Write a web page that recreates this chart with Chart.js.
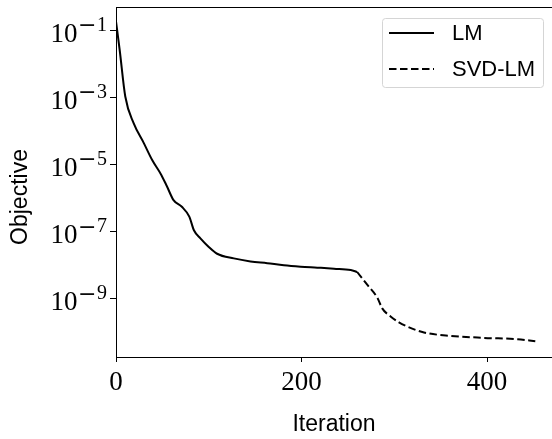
<!DOCTYPE html>
<html>
<head>
<meta charset="utf-8">
<script src="https://cdn.jsdelivr.net/npm/chart.js@4.4.1/dist/chart.umd.min.js"></script>
<style>
  html, body { margin: 0; padding: 0; background: #fff; }
</style>
</head>
<body>
<canvas id="objChart" width="552" height="439"></canvas>
<script>
// ---------------------- DATA ---------------------
const lmIter = [0, 4, 10, 19, 30, 39, 49, 55, 62, 71, 79, 84, 91, 100, 109, 127, 145, 163, 181, 199, 217, 235, 253, 260];
const lmObjective = [1.8e-1, 2.5e-2, 1.05e-3, 1.7e-4, 4.3e-5, 1.35e-5, 4.8e-6, 2.2e-6, 8.7e-7, 5.5e-7, 2.8e-7, 1.1e-7,
  6.3e-8, 3.5e-8, 2.2e-8, 1.6e-8, 1.3e-8, 1.15e-8, 1.0e-8, 9.1e-9, 8.5e-9, 7.9e-9, 7.2e-9, 6.3e-9];

const svdIter = [260, 271, 282, 287, 296, 305, 314, 332, 361, 397, 433, 452];
const svdObjective = [6.3e-9, 2.6e-9, 1.05e-9, 5.2e-10, 3.0e-10, 2.0e-10, 1.5e-10, 1.0e-10, 7.9e-11, 6.9e-11, 6.3e-11, 5.5e-11];

const xTicks = [0, 200, 400];
const yTicks = [1e-9, 1e-7, 1e-5, 1e-3, 1e-1];

const toPoints = (xs, ys) => xs.map((x, i) => ({ x: x, y: ys[i] }));

// ---------------------- PLUGINS ---------------------
// y tick labels as 10^n with a real superscript
const powerLabels = {
  id: "powerLabels",
  afterDraw(chart) {
    const ctx = chart.ctx;
    const scale = chart.scales.y;
    ctx.save();
    ctx.fillStyle = "#000";
    ctx.textBaseline = "alphabetic";
    scale.ticks.forEach(t => {
      const py = scale.getPixelForValue(t.value);
      const digits = String(Math.abs(Math.round(Math.log10(t.value))));
      ctx.font = "20px 'Liberation Serif'";
      const dw = ctx.measureText(digits).width;
      ctx.font = "22px 'DejaVu Serif'";
      const mw = ctx.measureText("\u2212").width;
      ctx.font = "27px 'Liberation Serif'";
      const bw = ctx.measureText("10").width;
      const right = scale.right - 9;
      ctx.fillText("10", right - dw - mw - bw - 1, py + 11.5);
      ctx.font = "22px 'DejaVu Serif'";
      ctx.fillText("\u2212", right - dw - mw - 0.5, py + 2);
      ctx.font = "20px 'Liberation Serif'";
      ctx.fillText(digits, right - dw, py + 0.5);
    });
    ctx.restore();
  }
};

// rotated y title, placed as in the original figure
const yTitle = {
  id: "yTitle",
  afterDraw(chart) {
    const ctx = chart.ctx;
    ctx.save();
    ctx.translate(21, 197);
    ctx.rotate(-Math.PI / 2);
    ctx.font = "23px 'Liberation Sans'";
    ctx.fillStyle = "#000";
    ctx.textAlign = "center";
    ctx.textBaseline = "middle";
    ctx.fillText("Objective", 0, 0);
    ctx.restore();
  }
};

// top spine (right spine sits at the canvas edge)
const frame = {
  id: "frame",
  afterDraw(chart) {
    const { ctx, chartArea } = chart;
    ctx.save();
    ctx.strokeStyle = "#000";
    ctx.lineWidth = 1;
    ctx.beginPath();
    ctx.moveTo(chartArea.left, Math.round(chartArea.top) + 0.5);
    ctx.lineTo(Math.round(chartArea.right) + 0.5, Math.round(chartArea.top) + 0.5);
    ctx.lineTo(Math.round(chartArea.right) + 0.5, chartArea.bottom);
    ctx.stroke();
    ctx.restore();
  }
};

// boxed legend inside the plot, upper right
const boxLegend = {
  id: "boxLegend",
  afterDraw(chart) {
    const { ctx, chartArea } = chart;
    const bx = chartArea.right - 170, by = chartArea.top + 11;
    ctx.save();
    ctx.beginPath();
    ctx.roundRect(Math.round(bx) + 0.5, Math.round(by) + 0.5, 161, 69, 3);
    ctx.fillStyle = "rgba(255,255,255,0.8)";
    ctx.fill();
    ctx.strokeStyle = "#d5d5d5";
    ctx.lineWidth = 1;
    ctx.stroke();
    chart.data.datasets.forEach((ds, i) => {
      const ly = by + 15 + i * 36;
      ctx.beginPath();
      ctx.setLineDash(ds.borderDash || []);
      ctx.moveTo(bx + 7, ly);
      ctx.lineTo(bx + 52, ly);
      ctx.strokeStyle = ds.borderColor;
      ctx.lineWidth = ds.borderWidth;
      ctx.stroke();
      ctx.setLineDash([]);
      ctx.font = "22px 'Liberation Sans'";
      ctx.fillStyle = "#000";
      ctx.textBaseline = "middle";
      ctx.fillText(ds.label, bx + 70, ly + 1);
    });
    ctx.restore();
  }
};

// ---------------------- CHART ---------------------
const ctx = document.getElementById("objChart").getContext("2d");

new Chart(ctx, {
  type: "line",
  data: {
    datasets: [
      {
        label: "LM",
        data: toPoints(lmIter, lmObjective),
        borderColor: "#000",
        borderWidth: 2,
        pointRadius: 0,
        cubicInterpolationMode: "monotone",
        fill: false
      },
      {
        label: "SVD-LM",
        data: toPoints(svdIter, svdObjective),
        borderColor: "#000",
        borderWidth: 2,
        borderDash: [7.5, 3.5],
        pointRadius: 0,
        cubicInterpolationMode: "monotone",
        fill: false
      }
    ]
  },
  options: {
    responsive: false,
    animation: false,
    layout: { padding: { top: 7, right: 0, left: 0, bottom: 0 } },
    plugins: {
      legend: { display: false },
      tooltip: { enabled: false }
    },
    scales: {
      x: {
        type: "linear",
        min: 0,
        max: 470,
        afterBuildTicks: s => { s.ticks = xTicks.map(v => ({ value: v })); },
        grid: { drawOnChartArea: false, drawTicks: true, tickLength: 5, color: "#000" },
        border: { display: true, color: "#000", width: 1 },
        ticks: { font: { family: "Liberation Serif", size: 27 }, color: "#000", padding: 5, maxRotation: 0 },
        title: {
          display: true, text: "Iteration", color: "#000",
          font: { family: "Liberation Sans", size: 23 },
          padding: { top: 1, bottom: 1 }
        },
        afterFit: s => { s.height = 82; s.paddingLeft = 0; s.paddingRight = 0; }
      },
      y: {
        type: "logarithmic",
        min: Math.pow(10, -10.73),
        max: Math.pow(10, -0.315),
        afterBuildTicks: s => { s.ticks = yTicks.map(v => ({ value: v })); },
        grid: { drawOnChartArea: false, drawTicks: true, tickLength: 6, color: "#000" },
        border: { display: true, color: "#000", width: 1 },
        ticks: { color: "transparent", callback: () => "" },
        title: { display: false },
        afterFit: s => { s.width = 116; s.paddingTop = 0; s.paddingBottom = 0; }
      }
    }
  },
  plugins: [powerLabels, yTitle, frame, boxLegend]
});
</script>
</body>
</html>
